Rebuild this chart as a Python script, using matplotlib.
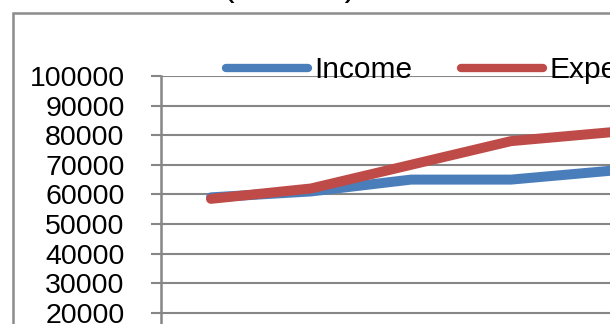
"""Income vs expense line chart (cropped Excel-style view)."""
import matplotlib

matplotlib.use("Agg")
import matplotlib.pyplot as plt
from matplotlib.patches import Rectangle

plt.rcParams["font.family"] = ["Liberation Sans", "DejaVu Sans"]

years = ["2010", "2011", "2012", "2013", "2014"]
income = [59000, 61000, 65000, 65000, 68000]
expense = [58500, 62000, 70000, 78000, 81000]
yticks = list(range(0, 100001, 10000))

W, H = 610, 324
fig = plt.figure(figsize=(W / 100, H / 100), dpi=100)

# plot area runs off the right and bottom edges of the picture
left, top = 161, 76
ax = fig.add_axes([left / W, 1 - (top + 296) / H, 500 / W, 296 / H])

grey = "#868686"
x = range(len(years))
ax.plot(x, income, color="#4A7EBB", lw=7.2, solid_capstyle="round", label="Income")
ax.plot(x, expense, color="#BE4B48", lw=7.2, solid_capstyle="round", label="Expense")

ax.set_xlim(-0.5, len(years) - 0.5)
ax.set_ylim(0, 100000)
ax.set_yticks(yticks)
ax.set_yticklabels([str(v) for v in yticks])
ax.set_xticks([])
ax.yaxis.grid(True, color=grey, lw=1.5)
ax.set_axisbelow(True)
ax.tick_params(axis="y", length=7.2, width=1.5, color=grey, pad=19, labelsize=20.5)
for side in ("top", "right", "bottom"):
    ax.spines[side].set_visible(False)
ax.spines["left"].set_color(grey)
ax.spines["left"].set_linewidth(1.8)

leg = fig.legend(loc="center left", bbox_to_anchor=(226 / W, 1 - 70 / H), ncol=2,
                 frameon=False, fontsize=21.5, borderpad=0, borderaxespad=0,
                 handlelength=2.75, handletextpad=0.22, columnspacing=1.6)
for line in leg.get_lines():
    line.set_linewidth(6)

# chart area border and the title, both mostly outside the crop
fig.patches.append(Rectangle((13 / W, -0.5), 2, 1.5 - 13 / H, transform=fig.transFigure,
                             fill=False, edgecolor="#8C8C8C", lw=1.8))
fig.text(290 / W, 1 + 4 / H, "(in USD)", ha="center", va="baseline", fontsize=25)

fig.savefig("out.png", dpi=100)
